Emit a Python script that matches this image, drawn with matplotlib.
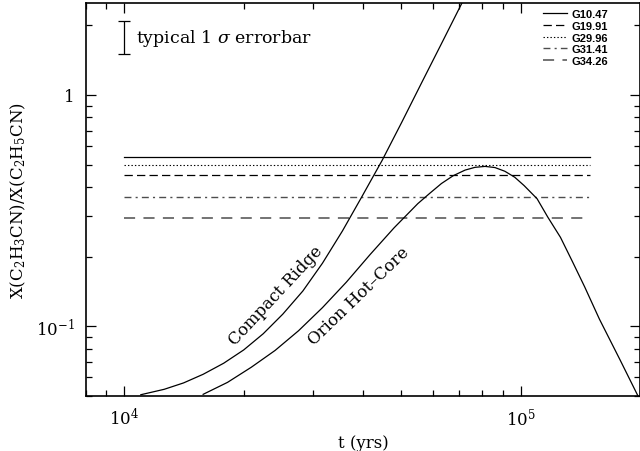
import numpy as np
import matplotlib
matplotlib.use("Agg")
import matplotlib.pyplot as plt
from matplotlib.ticker import LogLocator, FuncFormatter, NullFormatter

plt.rcParams["font.family"] = "DejaVu Serif"
plt.rcParams["mathtext.fontset"] = "dejavuserif"
plt.rcParams["lines.scale_dashes"] = False

# observed abundance ratios, drawn as flat lines over the time range
sources = ["G10.47", "G19.91", "G29.96", "G31.41", "G34.26"]
ratios = [0.539, 0.449, 0.498, 0.363, 0.295]
t_obs = [1e4, 1.5e5]

# model curves
t_cr = [1.1e4, 1.26e4, 1.41e4, 1.58e4, 1.78e4, 2.0e4, 2.24e4, 2.51e4, 2.82e4,
        3.16e4, 3.55e4, 3.98e4, 4.47e4, 5.01e4, 5.62e4, 6.31e4, 7.08e4, 7.94e4]
x_cr = [0.0505, 0.0533, 0.0568, 0.0619, 0.0691, 0.0789, 0.0927, 0.1127, 0.1419,
        0.1871, 0.2582, 0.3648, 0.5212, 0.762, 1.127, 1.667, 2.466, 3.648]

t_hc = [1.58e4, 1.82e4, 2.09e4, 2.40e4, 2.75e4, 3.16e4, 3.63e4, 4.17e4, 4.79e4,
        5.50e4, 5.89e4, 6.31e4, 6.76e4, 7.24e4, 7.67e4, 8.13e4, 8.61e4, 9.12e4,
        9.66e4, 1.02e5, 1.10e5, 1.17e5, 1.26e5, 1.35e5, 1.45e5, 1.58e5, 1.78e5,
        2.0e5]
x_hc = [0.0507, 0.0571, 0.0664, 0.0785, 0.0955, 0.1202, 0.1549, 0.2042, 0.2661,
        0.3388, 0.3750, 0.4140, 0.4477, 0.4732, 0.4864, 0.4909, 0.4853, 0.4677,
        0.4406, 0.4055, 0.3556, 0.2965, 0.2421, 0.1905, 0.1479, 0.1072, 0.0716,
        0.0479]

# typical error bar
err_t = 1e4
err_mid = 1.77
err_lo = 1.50
err_hi = 2.08

styles = [
    dict(color="black", linestyle="-", lw=0.9),
    dict(color="black", linestyle=(0, (6, 3)), lw=0.9),
    dict(color="black", linestyle=(0, (1, 1.5)), lw=0.8),
    dict(color="0.3", linestyle=(0, (5, 3, 1.5, 3)), lw=1.0),
    dict(color="0.45", linestyle=(0, (8, 6)), lw=1.4),
]

fig = plt.figure(figsize=(6.4, 4.52), dpi=100)
ax = fig.add_axes([0.1344, 0.1223, 0.8656, 0.8689])

for name, r, st in zip(sources, ratios, styles):
    ax.plot(t_obs, [r, r], label=name, **st)

ax.plot(t_cr, x_cr, color="black", lw=0.9)
ax.plot(t_hc, x_hc, color="black", lw=0.9)

ax.errorbar([err_t], [err_mid], yerr=[[err_mid - err_lo], [err_hi - err_mid]],
            color="black", lw=0.9, capsize=4, capthick=0.9)
ax.text(1.07e4, err_mid, r"typical 1 $\sigma$ errorbar", fontsize=12.5,
        ha="left", va="center")

ax.text(2.41e4, 0.136, "Compact Ridge", fontsize=12, rotation=47,
        rotation_mode="anchor", ha="center", va="center")
ax.text(3.91e4, 0.1356, "Orion Hot\u2013Core", fontsize=12, rotation=44,
        rotation_mode="anchor", ha="center", va="center")

ax.set_xscale("log")
ax.set_yscale("log")
ax.set_xlim(8000, 2e5)
ax.set_ylim(0.05, 2.5)

ax.xaxis.set_major_locator(LogLocator(base=10))
ax.yaxis.set_major_formatter(FuncFormatter(
    lambda v, p: "1" if abs(v - 1) < 1e-9 else r"$10^{%d}$" % round(np.log10(v))))
ax.xaxis.set_minor_formatter(NullFormatter())
ax.yaxis.set_minor_formatter(NullFormatter())

ax.tick_params(which="both", direction="in", top=True, right=True,
               labelsize=12, width=0.9, pad=8)
ax.tick_params(which="major", length=7.5)
ax.tick_params(which="minor", length=4)
for sp in ax.spines.values():
    sp.set_linewidth(1.2)

ax.set_xlabel("t (yrs)", fontsize=12, labelpad=4)
ax.set_ylabel(r"X(C$_2$H$_3$CN)/X(C$_2$H$_5$CN)", fontsize=12, labelpad=6)

ax.legend(loc="upper right", bbox_to_anchor=(0.942, 0.984), frameon=False,
          prop=dict(family="Liberation Sans", weight="bold", size=8),
          handlelength=2.1, handletextpad=0.4, labelspacing=0.15,
          borderpad=0, borderaxespad=0)

fig.savefig("out.png", dpi=100)
